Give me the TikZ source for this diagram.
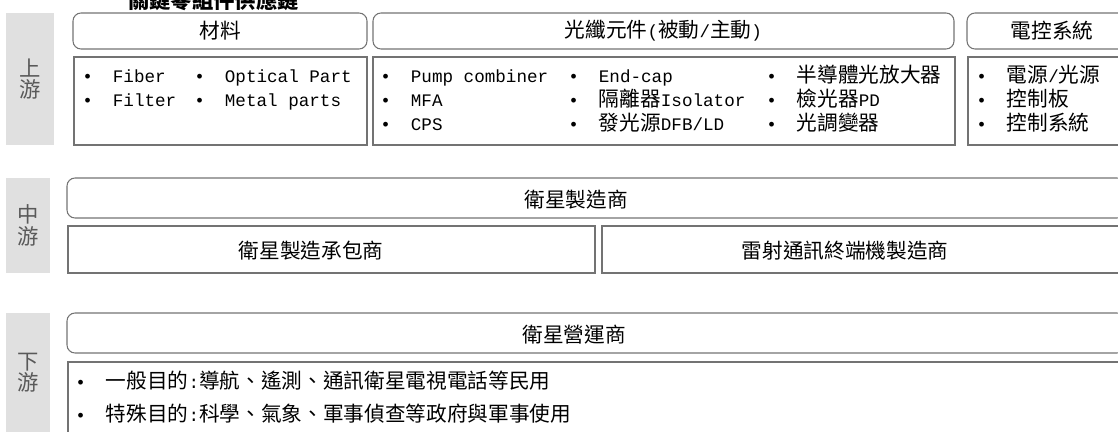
\documentclass[tikz,border=0pt]{standalone}
\usepackage{fontspec}
\setmainfont{Noto Sans CJK TC}
\newfontfamily\lat{Liberation Mono}
\usetikzlibrary{positioning}

\newcommand\lt[1]{{\lat\fontsize{13.2pt}{18pt}\selectfont #1}}
\newcommand\bul{\makebox[23pt][l]{\lt{•}}}

\begin{document}
\begin{tikzpicture}[x=0.75pt, y=-0.75pt,
    lane/.style={rectangle, fill=black!12, text=black!65, align=center, font=\fontsize{16pt}{16pt}\selectfont},
    head/.style={rectangle, rounded corners=6pt, draw=black!55, line width=0.8pt, minimum height=27pt, font=\fontsize{15.5pt}{18pt}\selectfont},
    cell/.style={rectangle, draw=black!55, line width=0.8pt},
    item/.style={anchor=base west, inner sep=0pt, font=\fontsize{15.5pt}{18pt}\selectfont},
    boxtext/.style={inner sep=0pt, font=\fontsize{15.5pt}{18pt}\selectfont}]

    \useasboundingbox (0,0) rectangle (1118,432);

    \node[anchor=base west, inner sep=0pt, font=\bfseries\fontsize{16pt}{18pt}\selectfont] (title) at (128,8.5) {關鍵零組件供應鏈};

    % lanes
    \node[lane, minimum width=36pt, minimum height=99pt] (up) at (30,79) {上\\游};
    \node[lane, minimum width=33pt, minimum height=71.25pt] (mid) at (28,225.5) {中\\游};
    \node[lane, minimum width=33pt, minimum height=89.25pt] (down) at (28,372.5) {下\\游};

    % upstream
    \node[head, minimum width=220.5pt] (mat) at (220,31) {材料};
    \node[head, minimum width=435.75pt] (fib) at (663.5,31) {光纖元件\lt{(}被動\lt{/}主動\lt{)}};
    \node[head, minimum width=127.5pt] (ctl) at (1052,31) {電控系統};
    \node[cell, minimum width=219.75pt, minimum height=66pt] (mat-box) at (220.5,101) {};
    \node[cell, minimum width=436.5pt, minimum height=66pt] (fib-box) at (664,101) {};
    \node[cell, minimum width=126.75pt, minimum height=66pt] (ctl-box) at (1052.5,101) {};

    \foreach \txt [count=\i] in {{\lt{Fiber}}, {\lt{Filter}}}
        \node[item] (mat-a\i) at (82,{82+24*(\i-1)}) {\bul\txt};
    \foreach \txt [count=\i] in {{\lt{Optical Part}}, {\lt{Metal parts}}}
        \node[item] (mat-b\i) at (194,{82+24*(\i-1)}) {\bul\txt};
    \foreach \txt [count=\i] in {{\lt{Pump combiner}}, {\lt{MFA}}, {\lt{CPS}}}
        \node[item] (fib-a\i) at (380,{82+24*(\i-1)}) {\bul\txt};
    \foreach \txt [count=\i] in {{\lt{End-cap}}, {隔離器\lt{Isolator}}, {發光源\lt{DFB/LD}}}
        \node[item] (fib-b\i) at (568,{82+24*(\i-1)}) {\bul\txt};
    \foreach \txt [count=\i] in {{半導體光放大器}, {檢光器\lt{PD}}, {光調變器}}
        \node[item] (fib-c\i) at (766,{82+24*(\i-1)}) {\bul\txt};
    \foreach \txt [count=\i] in {{電源\lt{/}光源}, {控制板}, {控制系統}}
        \node[item] (ctl-a\i) at (976,{82+24*(\i-1)}) {\bul\txt};

    % midstream
    \node[head, minimum width=793.5pt, minimum height=30pt] (mfg) at (596,198) {};
    \node[cell, minimum width=395.25pt, minimum height=35.25pt] (sub) at (331.5,249.5) {};
    \node[cell, minimum width=394.5pt, minimum height=35.25pt] (lct) at (865,249.5) {};
    \node[boxtext] (mfg-t) at (576,200) {衛星製造商};
    \node[boxtext] (sub-t) at (311,251) {衛星製造承包商};
    \node[boxtext] (lct-t) at (845,251) {雷射通訊終端機製造商};

    % downstream
    \node[head, minimum width=793.5pt, minimum height=30pt] (ops) at (596,333) {};
    \node[cell, minimum width=795pt, minimum height=66pt] (ops-box) at (598,406) {};
    \node[boxtext] (ops-t) at (574,335) {衛星營運商};
    \node[item] (ops-a1) at (75,388) {\bul 一般目的\lt{:}導航、遙測、通訊衛星電視電話等民用};
    \node[item] (ops-a2) at (75,421) {\bul 特殊目的\lt{:}科學、氣象、軍事偵查等政府與軍事使用};
\end{tikzpicture}
\end{document}
